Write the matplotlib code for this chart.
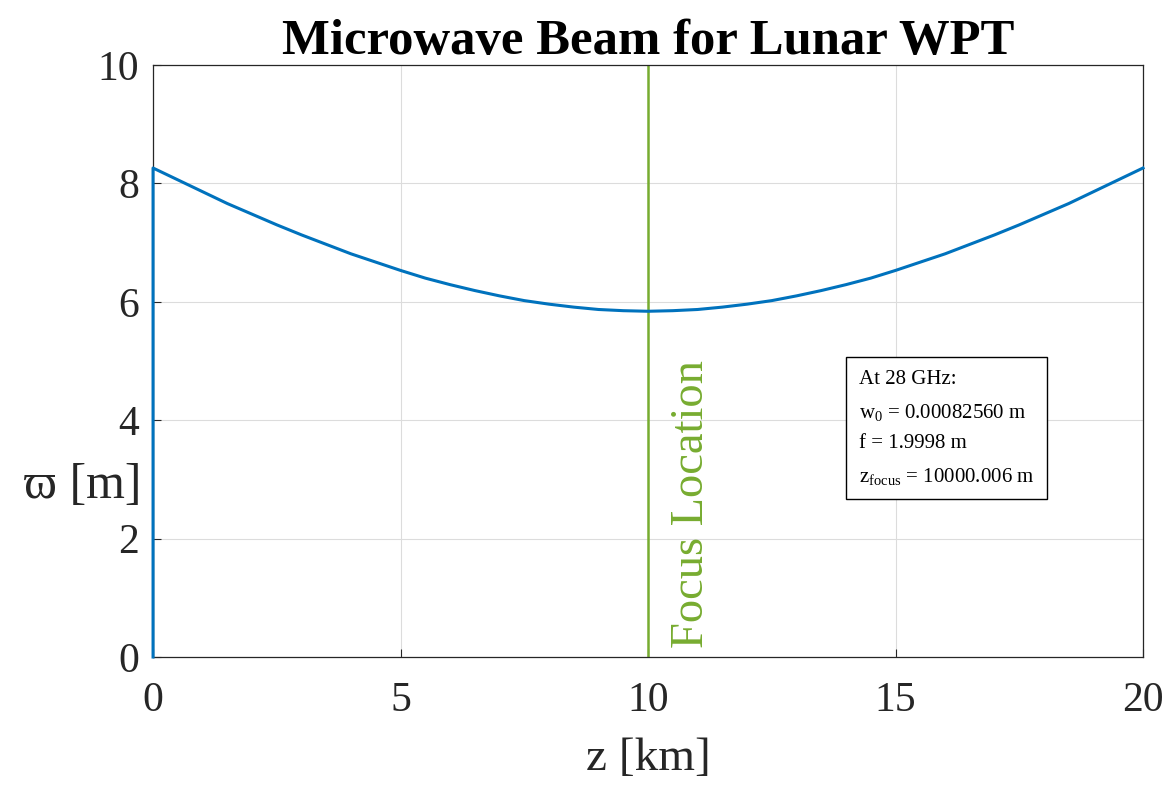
import matplotlib
matplotlib.use('Agg')
import matplotlib.pyplot as plt

# Strahlradius ueber z
z_km = [0, 0, 0.5, 1, 1.5, 2, 2.5, 3, 3.5, 4, 4.5, 5, 5.5, 6, 6.5, 7, 7.5, 8, 8.5, 9, 9.5, 10,
        10.5, 11, 11.5, 12, 12.5, 13, 13.5, 14, 14.5, 15, 15.5, 16, 16.5, 17, 17.5, 18, 18.5,
        19, 19.5, 20]
radius_m = [0.0, 8.26, 8.06, 7.86, 7.66, 7.48, 7.30, 7.13, 6.97, 6.81, 6.67, 6.53, 6.40,
            6.29, 6.19, 6.10, 6.02, 5.96, 5.91, 5.87, 5.85, 5.84,
            5.85, 5.87, 5.91, 5.96, 6.02, 6.10, 6.19, 6.29, 6.40, 6.53, 6.67, 6.81, 6.97,
            7.13, 7.30, 7.48, 7.66, 7.86, 8.06, 8.26]
z_focus_km = 10

info_zeilen = ['At 28 GHz:',
               r'w$_0$ = 0.00082560 m',
               'f = 1.9998 m',
               r'z$_{\mathrm{focus}}$ = 10000.006 m']

plt.rcParams['font.family'] = ['Liberation Serif', 'DejaVu Serif']
plt.rcParams['mathtext.fontset'] = 'custom'
plt.rcParams['mathtext.rm'] = 'Liberation Serif'
plt.rcParams['mathtext.it'] = 'Liberation Serif:italic'

grau = '#262626'
fig = plt.figure(figsize=(11.71, 7.87), dpi=100)
ax = fig.add_axes([0.1307, 0.1652, 0.8454, 0.7522])

ax.plot(z_km, radius_m, color='#0072BD', lw=2.2, zorder=3, clip_on=False)
ax.axvline(z_focus_km, color='#77AC30', lw=1.8, zorder=2)
ax.text(z_focus_km + 0.45, 0.15, 'Focus Location', rotation=90, color='#77AC30',
        fontsize=33.5, ha='left', va='bottom')

ax.set_xlim(0, 20)
ax.set_ylim(0, 10)
ax.set_xticks([0, 5, 10, 15, 20])
ax.set_yticks([0, 2, 4, 6, 8, 10])
ax.grid(True, color='#dcdcdc', lw=0.8)
ax.set_axisbelow(True)
ax.tick_params(direction='in', labelsize=30, colors=grau, length=6, pad=10)
ax.tick_params(axis='x', pad=18)
for s in ax.spines.values():
    s.set_color(grau)
    s.set_linewidth(0.9)

ax.set_xlabel('z [km]', fontsize=34, color=grau, labelpad=12)
ax.set_ylabel('\u03d6 [m]', fontsize=36, color=grau, rotation=0, ha='right', va='center')
ax.yaxis.set_label_coords(-0.012, 0.29)
ax.set_title('Microwave Beam for Lunar WPT', fontsize=36.5, fontweight='bold', pad=8)

ax.text(0.713, 0.485, '\n'.join(info_zeilen), transform=ax.transAxes, fontsize=15,
        va='top', ha='left', linespacing=1.8,
        bbox=dict(boxstyle='square,pad=0.6', fc='white', ec='black', lw=1))

fig.savefig('out.png', dpi=100)
